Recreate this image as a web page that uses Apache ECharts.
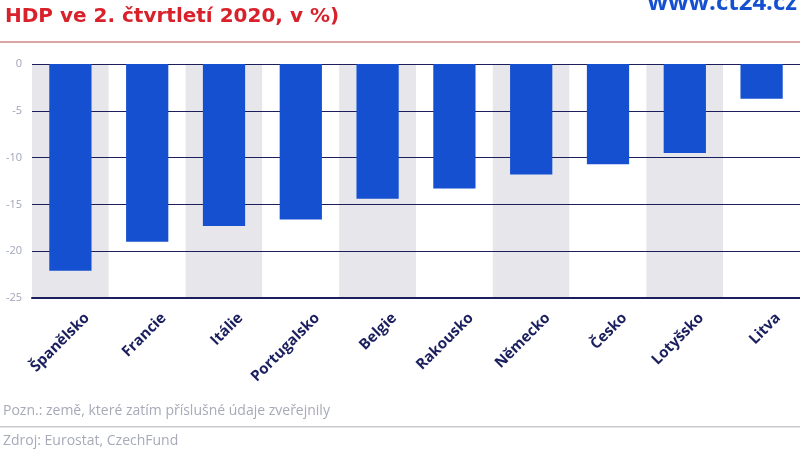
<!DOCTYPE html>
<html>
<head>
<meta charset="utf-8">
<script src="https://cdn.jsdelivr.net/npm/echarts@6/dist/echarts.min.js"></script>
<style>html,body{margin:0;padding:0;background:#fff}#c{width:800px;height:449px}</style>
</head>
<body>
<div id="c"></div>
<script>
var categories = ['Španělsko','Francie','Itálie','Portugalsko','Belgie','Rakousko','Německo','Česko','Lotyšsko','Litva'];
var values = [-22.1, -19.0, -17.3, -16.6, -14.4, -13.3, -11.8, -10.7, -9.5, -3.7];
var titleText = 'HDP ve 2. čtvrtletí 2020, v %)';
var siteText = 'www.ct24.cz';
var noteText = 'Pozn.: země, které zatím příslušné údaje zveřejnily';
var sourceText = 'Zdroj: Eurostat, CzechFund';

var chart = echarts.init(document.getElementById('c'));
chart.setOption({
  animation: false,
  backgroundColor: '#ffffff',
  graphic: [
    {type:'text', left:5, top:7, style:{text:titleText, fill:'#d8212b', font:'bold 20px "DejaVu Sans"'}},
    {type:'text', right:3, top:-9, style:{text:siteText, fill:'#1450cf', font:'bold 24px "Open Sans"'}},
    {type:'rect', shape:{x:0,y:41,width:800,height:2}, style:{fill:'#dba5a5'}},
    {type:'text', left:3, top:404, style:{text:noteText, fill:'#a7aab8', font:'14px "Open Sans"'}},
    {type:'rect', shape:{x:0,y:426,width:800,height:1.5}, style:{fill:'#c9c9cd'}},
    {type:'text', left:3, top:434, style:{text:sourceText, fill:'#a7aab8', font:'14px "Open Sans"'}}
  ],
  grid: {left:32, right:0, top:64, bottom:151, containLabel:false},
  xAxis: {
    type:'category', data: categories, position:'bottom', z:0,
    axisLine:{show:true, onZero:false, lineStyle:{color:'#1b1f5e', width:2}},
    axisTick:{show:false},
    splitArea:{show:true, areaStyle:{color:['#e7e7eb','#ffffff']}},
    axisLabel:{rotate:45, color:'#1b1f5e', fontFamily:'Open Sans', fontWeight:'bold', fontSize:15, margin:1, interval:0,
               verticalAlign:'top', padding:[16,0,0,0]}
  },
  yAxis: {
    type:'value', min:-25, max:0, interval:5, z:1,
    axisLine:{show:false}, axisTick:{show:false},
    axisLabel:{color:'#a0a4b8', fontFamily:'Open Sans', fontSize:11, margin:10},
    splitLine:{show:true, lineStyle:{color:'#1b1f5e', width:1.1}}
  },
  series: [{
    type:'bar', data: values, barWidth:'55%', z:3,
    itemStyle:{color:'#1450cf'}
  }]
});
</script>
</body>
</html>
